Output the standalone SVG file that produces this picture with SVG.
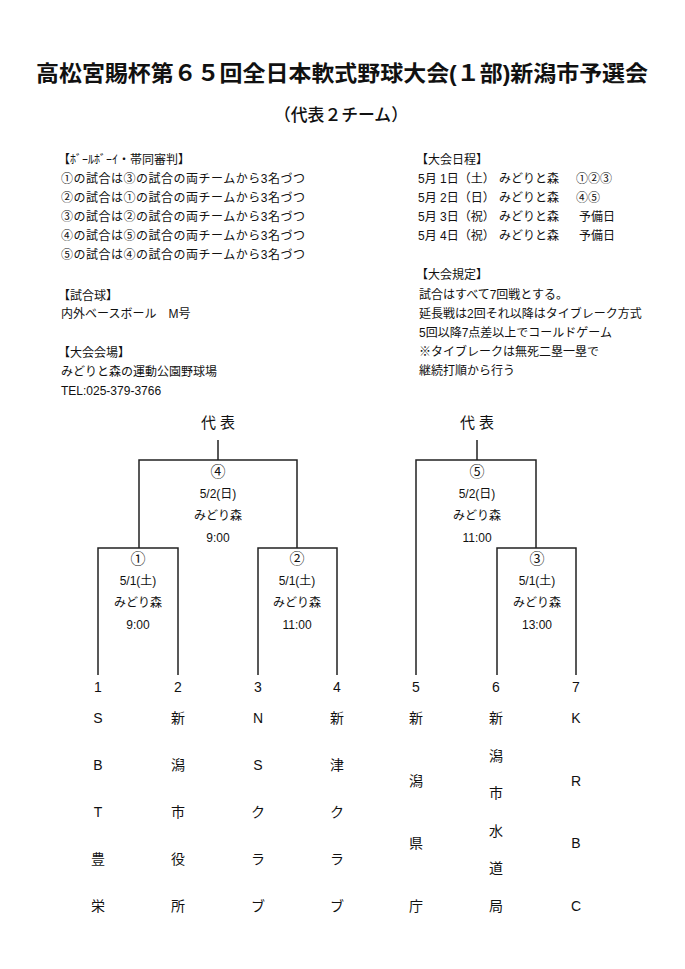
<svg xmlns="http://www.w3.org/2000/svg" width="685" height="969" viewBox="0 0 685 969">
<style>
text{font-family:"Liberation Sans","Noto Sans CJK JP",sans-serif;fill:#111}
.title{font-size:22px;font-weight:700}
.sub{font-size:17px;font-weight:500}
.info{font-size:12px}
.lbl{font-size:12px;text-anchor:middle}
.circ{font-size:15px;text-anchor:middle}
.rep{font-size:15px;text-anchor:middle}
.num{font-size:14px;text-anchor:middle}
.team{font-size:14px;text-anchor:middle}
.ln{fill:none;stroke:#222;stroke-width:1.5}
</style>
<rect width="685" height="969" fill="#fff"/>
<g id="header">
<text class="title" x="36" y="81" textLength="612" lengthAdjust="spacingAndGlyphs">高松宮賜杯第６５回全日本軟式野球大会(１部)新潟市予選会</text>
<text class="sub" x="274" y="121" textLength="134" lengthAdjust="spacingAndGlyphs">（代表２チーム）</text>
</g>
<g id="info-left" class="info">
<text x="58" y="163.5">【ﾎﾞｰﾙﾎﾞｰｲ・帯同審判】</text>
<text x="61" y="182.5" textLength="244">①の試合は③の試合の両チームから3名づつ</text>
<text x="61" y="201.5" textLength="244">②の試合は①の試合の両チームから3名づつ</text>
<text x="61" y="220.5" textLength="244">③の試合は②の試合の両チームから3名づつ</text>
<text x="61" y="239.5" textLength="244">④の試合は⑤の試合の両チームから3名づつ</text>
<text x="61" y="258.5" textLength="244">⑤の試合は④の試合の両チームから3名づつ</text>
<text x="58" y="299.5">【試合球】</text>
<text x="61" y="317.5">内外ベースボール　M号</text>
<text x="58" y="356.5">【大会会場】</text>
<text x="61" y="375.5">みどりと森の運動公園野球場</text>
<text x="61" y="394.5">TEL:025-379-3766</text>
</g>
<g id="info-right" class="info">
<text x="416" y="163.5">【大会日程】</text>
<text x="418" y="182.5">5月</text><text x="440" y="182.5">1日（土）</text><text x="499" y="182.5">みどりと森</text><text x="576" y="182.5">①②③</text>
<text x="418" y="201.5">5月</text><text x="440" y="201.5">2日（日）</text><text x="499" y="201.5">みどりと森</text><text x="576" y="201.5">④⑤</text>
<text x="418" y="220.5">5月</text><text x="440" y="220.5">3日（祝）</text><text x="499" y="220.5">みどりと森</text><text x="579" y="220.5">予備日</text>
<text x="418" y="239.5">5月</text><text x="440" y="239.5">4日（祝）</text><text x="499" y="239.5">みどりと森</text><text x="579" y="239.5">予備日</text>
<text x="416" y="278.5">【大会規定】</text>
<text x="419" y="298.5">試合はすべて7回戦とする。</text>
<text x="419" y="317.5">延長戦は2回それ以降はタイブレーク方式</text>
<text x="419" y="336.5">5回以降7点差以上でコールドゲーム</text>
<text x="419" y="355.5">※タイブレークは無死二塁一塁で</text>
<text x="419" y="374.5">継続打順から行う</text>
</g>
<g id="connectors">
<path class="ln" d="M218 440V460M139 548V460H297V548M98 675V548H178V675M258 675V548H337V675"/>
<path class="ln" d="M477 440V460M416 675V460H536V548M497 675V548H576V675"/>
</g>
<g id="rep-left"><text class="rep" x="218" y="428">代 表</text></g>
<g id="rep-right"><text class="rep" x="477" y="428">代 表</text></g>
<g id="game4">
<text class="circ" x="218" y="477">④</text>
<text class="lbl" x="218" y="497.5">5/2(日)</text>
<text class="lbl" x="218" y="519.5">みどり森</text>
<text class="lbl" x="218" y="541.5">9:00</text>
</g>
<g id="game1">
<text class="circ" x="138" y="564">①</text>
<text class="lbl" x="138" y="584.5">5/1(土)</text>
<text class="lbl" x="138" y="606.5">みどり森</text>
<text class="lbl" x="138" y="628.5">9:00</text>
</g>
<g id="game2">
<text class="circ" x="297" y="564">②</text>
<text class="lbl" x="297" y="584.5">5/1(土)</text>
<text class="lbl" x="297" y="606.5">みどり森</text>
<text class="lbl" x="297" y="628.5">11:00</text>
</g>
<g id="game5">
<text class="circ" x="477" y="477">⑤</text>
<text class="lbl" x="477" y="497.5">5/2(日)</text>
<text class="lbl" x="477" y="519.5">みどり森</text>
<text class="lbl" x="477" y="541.5">11:00</text>
</g>
<g id="game3">
<text class="circ" x="537" y="564">③</text>
<text class="lbl" x="537" y="584.5">5/1(土)</text>
<text class="lbl" x="537" y="606.5">みどり森</text>
<text class="lbl" x="537" y="628.5">13:00</text>
</g>
<g id="team1" class="team"><text class="num" x="98" y="692">1</text><text x="98" y="723">S</text><text x="98" y="770">B</text><text x="98" y="817">T</text><text x="98" y="864">豊</text><text x="98" y="911">栄</text></g>
<g id="team2" class="team"><text class="num" x="178" y="692">2</text><text x="178" y="723">新</text><text x="178" y="770">潟</text><text x="178" y="817">市</text><text x="178" y="864">役</text><text x="178" y="911">所</text></g>
<g id="team3" class="team"><text class="num" x="258" y="692">3</text><text x="258" y="723">N</text><text x="258" y="770">S</text><text x="258" y="817">ク</text><text x="258" y="864">ラ</text><text x="258" y="911">ブ</text></g>
<g id="team4" class="team"><text class="num" x="337" y="692">4</text><text x="337" y="723">新</text><text x="337" y="770">津</text><text x="337" y="817">ク</text><text x="337" y="864">ラ</text><text x="337" y="911">ブ</text></g>
<g id="team5" class="team"><text class="num" x="416" y="692">5</text><text x="416" y="723">新</text><text x="416" y="786">潟</text><text x="416" y="848">県</text><text x="416" y="911">庁</text></g>
<g id="team6" class="team"><text class="num" x="496" y="692">6</text><text x="496" y="723">新</text><text x="496" y="760.6">潟</text><text x="496" y="798.2">市</text><text x="496" y="835.8">水</text><text x="496" y="873.4">道</text><text x="496" y="911">局</text></g>
<g id="team7" class="team"><text class="num" x="576" y="692">7</text><text x="576" y="723">K</text><text x="576" y="786">R</text><text x="576" y="848">B</text><text x="576" y="911">C</text></g>
</svg>
